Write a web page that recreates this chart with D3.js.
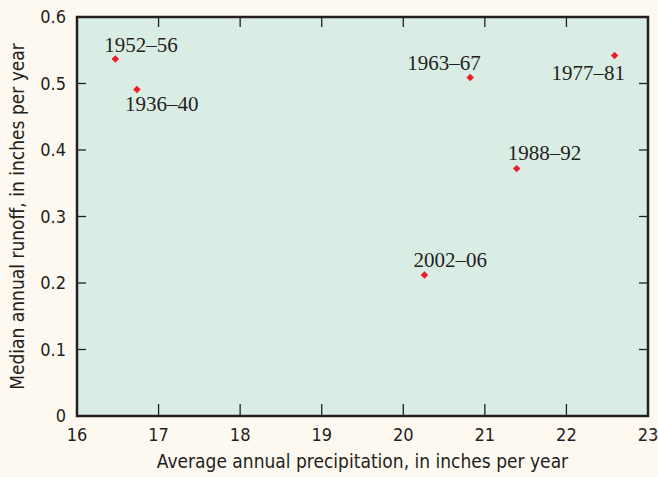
<!DOCTYPE html>
<html>
<head>
<meta charset="utf-8">
<script src="https://cdn.jsdelivr.net/npm/d3@7"></script>
<style>
  body { margin: 0; background: #fdf9f1; }
  svg { display: block; }
  .tick-label { font-family: "Liberation Sans Narrow", "DejaVu Sans Condensed", sans-serif; font-size: 18px; fill: #231f20; }
  .axis-title { font-family: "Liberation Sans Narrow", "DejaVu Sans Condensed", sans-serif; font-size: 19px; fill: #231f20; }
  .pt-label { font-family: "Liberation Serif", "DejaVu Serif", serif; font-size: 21px; fill: #231f20; }
</style>
</head>
<body>
<svg></svg>
<script>
const width = 658;
const height = 477;

// data
const periods = ["1952–56", "1936–40", "1963–67", "1977–81", "1988–92", "2002–06"];
const precipitation = [16.47, 16.735, 20.82, 22.59, 21.39, 20.26];
const runoff = [0.537, 0.491, 0.509, 0.542, 0.372, 0.212];

const xTicks = [16, 17, 18, 19, 20, 21, 22, 23];
const yTicks = [0, 0.1, 0.2, 0.3, 0.4, 0.5, 0.6];

// where each label sits relative to its point (px)
const labelOffsets = [[-11, -7], [-12, 22], [-63, -8], [-63, 24], [-9, -9], [-11, -8]];

const margin = { left: 77, right: 10, top: 17, bottom: 61 };

const svg = d3.select("svg")
  .attr("width", width)
  .attr("height", height);

const x = d3.scaleLinear().domain([16, 23]).range([margin.left, width - margin.right]);
const y = d3.scaleLinear().domain([0, 0.6]).range([height - margin.bottom, margin.top]);

const x0 = x.range()[0], x1 = x.range()[1];
const y0 = y.range()[0], y1 = y.range()[1];

svg.append("rect")
  .attr("x", x0).attr("y", y1)
  .attr("width", x1 - x0).attr("height", y0 - y1)
  .attr("fill", "#daede4");

// ticks on all four sides, pointing inward
const tickG = svg.append("g").attr("stroke", "#231f20").attr("stroke-width", 1.3);
xTicks.slice(1, -1).forEach(t => {
  tickG.append("line").attr("x1", x(t)).attr("x2", x(t)).attr("y1", y0).attr("y2", y0 - 12);
  tickG.append("line").attr("x1", x(t)).attr("x2", x(t)).attr("y1", y1).attr("y2", y1 + 10);
});
yTicks.slice(1, -1).forEach(t => {
  tickG.append("line").attr("y1", y(t)).attr("y2", y(t)).attr("x1", x0).attr("x2", x0 + 9);
  tickG.append("line").attr("y1", y(t)).attr("y2", y(t)).attr("x1", x1).attr("x2", x1 - 9);
});

svg.append("rect")
  .attr("x", x0).attr("y", y1)
  .attr("width", x1 - x0).attr("height", y0 - y1)
  .attr("fill", "none")
  .attr("stroke", "#231f20")
  .attr("stroke-width", 2.5);

svg.selectAll(".xl")
  .data(xTicks)
  .enter().append("text")
  .attr("class", "tick-label")
  .attr("x", d => x(d))
  .attr("y", y0 + 25)
  .attr("text-anchor", "middle")
  .text(d => d);

svg.selectAll(".yl")
  .data(yTicks)
  .enter().append("text")
  .attr("class", "tick-label")
  .attr("x", x0 - 11)
  .attr("y", d => y(d) + 6)
  .attr("text-anchor", "end")
  .text(d => d === 0 ? "0" : d3.format(".1f")(d));

svg.append("text")
  .attr("class", "axis-title")
  .attr("x", (x0 + x1) / 2)
  .attr("y", 468)
  .attr("text-anchor", "middle")
  .text("Average annual precipitation, in inches per year");

svg.append("text")
  .attr("class", "axis-title")
  .attr("transform", `translate(24,${(y0 + y1) / 2}) rotate(-90)`)
  .attr("text-anchor", "middle")
  .text("Median annual runoff, in inches per year");

const points = periods.map((p, i) => ({ name: p, px: precipitation[i], ro: runoff[i], off: labelOffsets[i] }));

svg.selectAll(".pt")
  .data(points)
  .enter().append("path")
  .attr("d", d3.symbol().type(d3.symbolSquare).size(28))
  .attr("transform", d => `translate(${x(d.px)},${y(d.ro)}) rotate(45)`)
  .attr("fill", "#ee1c25");

svg.selectAll(".pl")
  .data(points)
  .enter().append("text")
  .attr("class", "pt-label")
  .attr("x", d => x(d.px) + d.off[0])
  .attr("y", d => y(d.ro) + d.off[1])
  .text(d => d.name);
</script>
</body>
</html>
